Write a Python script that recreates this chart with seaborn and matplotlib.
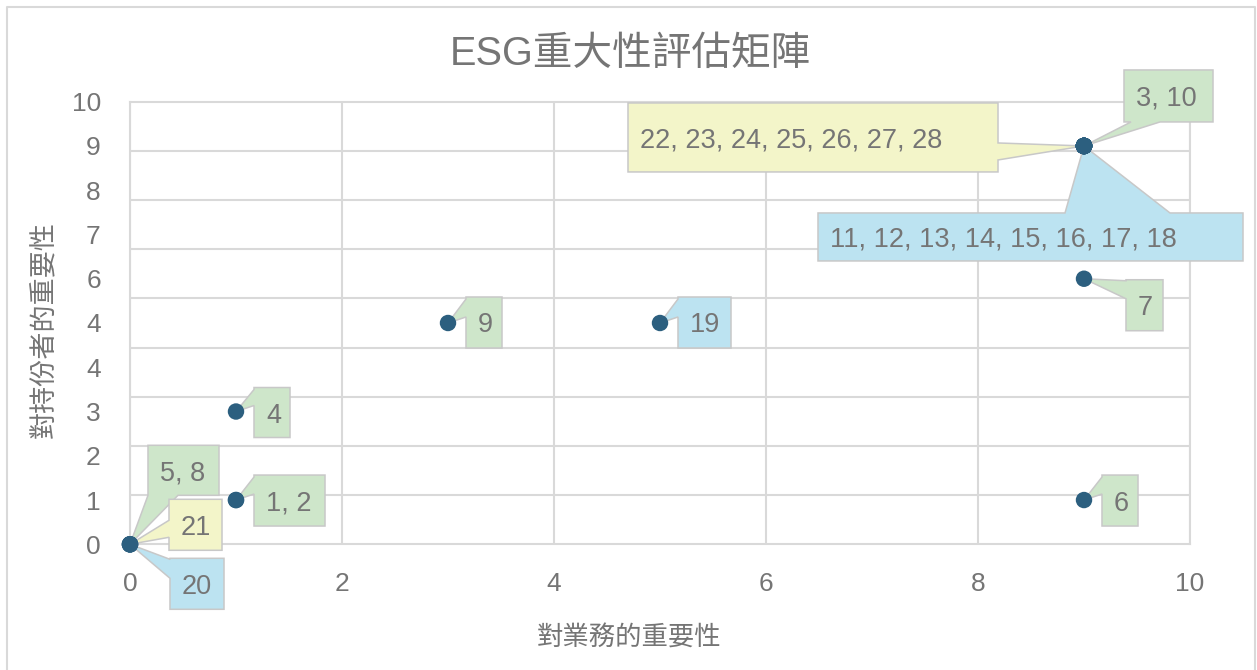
import numpy as np
import pandas as pd
import matplotlib
matplotlib.use("Agg")
import matplotlib.pyplot as plt
import matplotlib.transforms as mtransforms
from matplotlib.patches import Polygon
from matplotlib.lines import Line2D
import seaborn as sns

# items per series (id, importance to business, importance to stakeholders)
green_ids = [1, 2, 3, 4, 5, 6, 7, 8, 9, 10]
green_x = [1, 1, 9, 1, 0, 9, 9, 0, 3, 9]
green_y = [1, 1, 9, 3, 0, 1, 6, 0, 5, 9]

blue_ids = [11, 12, 13, 14, 15, 16, 17, 18, 19, 20]
blue_x = [9, 9, 9, 9, 9, 9, 9, 9, 5, 0]
blue_y = [9, 9, 9, 9, 9, 9, 9, 9, 5, 0]

yellow_ids = [21, 22, 23, 24, 25, 26, 27, 28]
yellow_x = [0, 9, 9, 9, 9, 9, 9, 9]
yellow_y = [0, 9, 9, 9, 9, 9, 9, 9]

x_ticks = [0, 2, 4, 6, 8, 10]
y_ticks = [0, 1, 2, 3, 4, 5, 6, 7, 8, 9, 10]
y_tick_labels = ["0", "1", "2", "3", "4", "4", "6", "7", "8", "9", "10"]

title = "ESG重大性評估矩陣"
x_title = "對業務的重要性"
y_title = "對持份者的重要性"

fills = {"green": "#cee6ca", "blue": "#bce3f1", "yellow": "#f3f5c9"}

# callout layout in pixels relative to the point (image y-down):
# box (left, top, right, bottom), edge where the wedge starts, wedge base span
callouts = {
    ("green", 0, 0): ((18, -99, 89, -49), "bottom", (18, 48)),
    ("yellow", 0, 0): ((39, -45, 92, 6), "left", (-24, -7)),
    ("blue", 0, 0): ((40, 14, 94, 65), "left", (15, 34)),
    ("green", 1, 1): ((18, -25, 89, 26), "left", (-23, -6)),
    ("green", 1, 3): ((18, -24, 54, 26), "left", (-22, -6)),
    ("green", 3, 5): ((18, -26, 54, 25), "left", (-24, -6)),
    ("blue", 5, 5): ((18, -26, 71, 25), "left", (-24, -6)),
    ("green", 9, 6): ((42, 1, 79, 52), "left", (2, 20)),
    ("green", 9, 1): ((18, -25, 54, 26), "left", (-23, -6)),
    ("green", 9, 9): ((40, -76, 129, -24), "bottom", (47, 76)),
    ("yellow", 9, 9): ((-456, -43, -86, 26), "right", (-3, 14)),
    ("blue", 9, 9): ((-266, 67, 159, 115), "top", (-19, 86)),
}

frames = []
for name, ids, xs, ys in [("green", green_ids, green_x, green_y),
                          ("blue", blue_ids, blue_x, blue_y),
                          ("yellow", yellow_ids, yellow_x, yellow_y)]:
    frames.append(pd.DataFrame({"series": name, "id": ids, "x": xs, "y": ys}))
df = pd.concat(frames, ignore_index=True)

sns.set_theme(style="white")
plt.rcParams["font.family"] = ["Liberation Sans", "Noto Sans CJK TC", "DejaVu Sans"]
text_color = "#757575"
grid_color = "#d9d9d9"

W, H = 1257, 670
fig = plt.figure(figsize=(W / 100, H / 100), dpi=100)
ax = fig.add_axes([130 / W, 125.7 / H, 1060 / W, 442.6 / H])

sns.scatterplot(data=df, x="x", y="y", color="#2c5f7f", s=140,
                edgecolor="none", ax=ax, zorder=10, clip_on=False)

ax.set_xlim(0, 10)
ax.set_ylim(0, 10)
ax.set_xticks(x_ticks)
ax.set_xticklabels([str(t) for t in x_ticks])
ax.set_yticks(y_ticks)
ax.set_yticklabels(y_tick_labels)
ax.set_yticks(np.linspace(0, 10, 10), minor=True)
ax.tick_params(which="both", length=0, labelsize=19, labelcolor=text_color)
ax.tick_params(axis="x", pad=20)
ax.tick_params(axis="y", pad=21)
ax.grid(False)
ax.xaxis.grid(True, which="major", color=grid_color, lw=1.5)
ax.yaxis.grid(True, which="minor", color=grid_color, lw=1.5)
for sp in ax.spines.values():
    sp.set_color(grid_color)
    sp.set_linewidth(1.5)

ax.set_xlabel(x_title, fontsize=19, color=text_color, va="center")
ax.xaxis.set_label_coords((629 - 130) / 1060, (544.3 - 637) / 442.6)
ax.set_ylabel(y_title, fontsize=19.5, color=text_color, va="center", ha="center")
ax.yaxis.set_label_coords((45 - 130) / 1060, (544.3 - 330) / 442.6)
fig.text(630 / W, 1 - 54 / H, title, ha="center", va="center",
         fontsize=28.5, color=text_color)


def callout_points(box, edge, base):
    l, t, r, b = box
    a, c = sorted(base)
    tip = (0, 0)
    if edge == "top":
        pts = [(l, t), (a, t), tip, (c, t), (r, t), (r, b), (l, b)]
    elif edge == "right":
        pts = [(l, t), (r, t), (r, a), tip, (r, c), (r, b), (l, b)]
    elif edge == "bottom":
        pts = [(l, t), (r, t), (r, b), (c, b), tip, (a, b), (l, b)]
    else:
        pts = [(l, t), (r, t), (r, b), (l, b), (l, c), tip, (l, a)]
    return [(px / 100, -py / 100) for px, py in pts]


groups = df.groupby(["series", "x", "y"])["id"].apply(
    lambda s: ", ".join(str(i) for i in sorted(s)))
for (series, x, y), label in groups.items():
    box, edge, base = callouts[(series, x, y)]
    trans = fig.dpi_scale_trans + mtransforms.ScaledTranslation(x, y, ax.transData)
    poly = Polygon(callout_points(box, edge, base), closed=True,
                   facecolor=fills[series], edgecolor="#c8c8c8", lw=1.1,
                   transform=trans, zorder=5, clip_on=False)
    ax.add_patch(poly)
    l, t, r, b = box
    ax.text((l + 12) / 100, -((t + b) / 2 + 3) / 100, label, transform=trans,
            ha="left", va="center", fontsize=19.5, color=text_color,
            zorder=6, clip_on=False)

# chart border
fig.add_artist(Line2D([7 / W, 7 / W, 1255 / W, 1255 / W],
                      [0, 1 - 7 / H, 1 - 7 / H, 0],
                      transform=fig.transFigure, color=grid_color, lw=1.5))

fig.savefig("out.png", dpi=100)
